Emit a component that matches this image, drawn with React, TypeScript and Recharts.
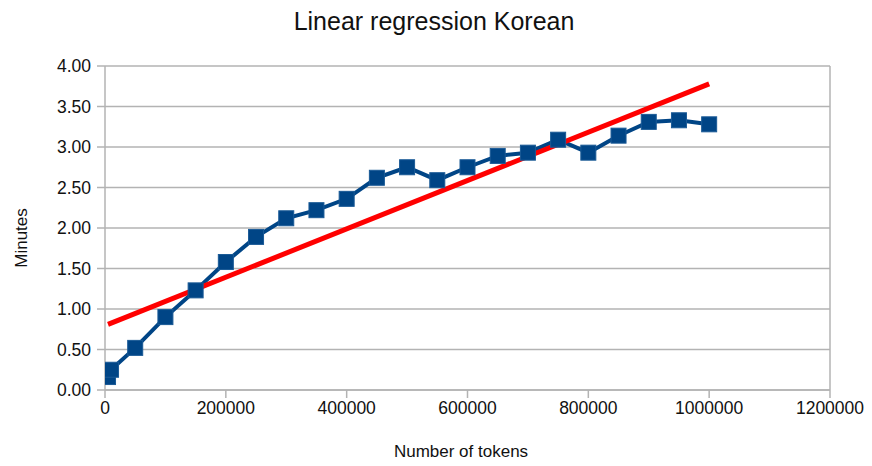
import { LineChart, Line, XAxis, YAxis, CartesianGrid, ReferenceLine } from "recharts";

const tokens = [5000, 10000, 50000, 100000, 150000, 200000, 250000, 300000, 350000, 400000, 450000, 500000, 550000, 600000, 650000, 700000, 750000, 800000, 850000, 900000, 950000, 1000000];
const minutes = [0.16, 0.25, 0.52, 0.9, 1.23, 1.58, 1.89, 2.12, 2.22, 2.36, 2.62, 2.75, 2.59, 2.75, 2.89, 2.93, 3.09, 2.93, 3.14, 3.31, 3.33, 3.28];

const fitTokens = [5000, 1000000];
const fitMinutes = [0.81, 3.78];

const xTicks = [0, 200000, 400000, 600000, 800000, 1000000, 1200000];
const yTicks = [0, 0.5, 1, 1.5, 2, 2.5, 3, 3.5, 4];

const measured = tokens.map((x, i) => ({ x, y: minutes[i] }));
const fit = fitTokens.map((x, i) => ({ x, y: fitMinutes[i] }));

const FONT = "'Liberation Sans', Arial, sans-serif";
const GRID = "#b3b3b3";
const BLUE = "#004586";

const SquareDot = (props: any) => {
  const { cx, cy } = props;
  if (cx == null || cy == null) return null;
  return <rect x={cx - 7.5} y={cy - 7.5} width={15} height={15} fill={BLUE} stroke="#1a5a96" strokeWidth={1} />;
};

export default function App() {
  return (
    <div style={{ position: "absolute", left: 0, top: 0, width: 872, height: 466, background: "#fff", fontFamily: FONT }}>
      <div style={{ position: "absolute", left: 0, width: 868, top: 7, textAlign: "center", fontSize: 25, color: "#111" }}>
        Linear regression Korean
      </div>
      <div style={{ position: "absolute", left: 0, width: 922, top: 442, textAlign: "center", fontSize: 17, color: "#111" }}>
        Number of tokens
      </div>
      <div
        style={{
          position: "absolute",
          left: 22,
          top: 238,
          transform: "translate(-50%, -50%) rotate(-90deg)",
          fontSize: 17,
          color: "#111",
          whiteSpace: "nowrap",
        }}
      >
        Minutes
      </div>
      <LineChart width={872} height={466} margin={{ top: 66, right: 42, bottom: 46, left: 45 }}>
        <CartesianGrid vertical={false} stroke={GRID} strokeWidth={1.5} />
        <XAxis
          dataKey="x"
          type="number"
          domain={[0, 1200000]}
          ticks={xTicks}
          height={30}
          stroke={GRID}
          strokeWidth={1.5}
          tickSize={8}
          tickMargin={4}
          tick={{ fill: "#111", fontSize: 17.5, fontFamily: FONT }}
          allowDataOverflow
        />
        <YAxis
          type="number"
          domain={[0, 4]}
          ticks={yTicks}
          width={60}
          stroke={GRID}
          strokeWidth={1.5}
          tickSize={8}
          tickMargin={6}
          tickFormatter={(v: number) => v.toFixed(2)}
          tick={{ fill: "#111", fontSize: 17.5, fontFamily: FONT }}
        />
        <ReferenceLine x={1200000} stroke={GRID} strokeWidth={1.5} />
        <Line
          data={measured}
          dataKey="y"
          stroke={BLUE}
          strokeWidth={4}
          dot={<SquareDot />}
          activeDot={false}
          isAnimationActive={false}
        />
        <Line
          data={fit}
          dataKey="y"
          stroke="#ff0000"
          strokeWidth={5}
          dot={false}
          activeDot={false}
          isAnimationActive={false}
        />
      </LineChart>
    </div>
  );
}
